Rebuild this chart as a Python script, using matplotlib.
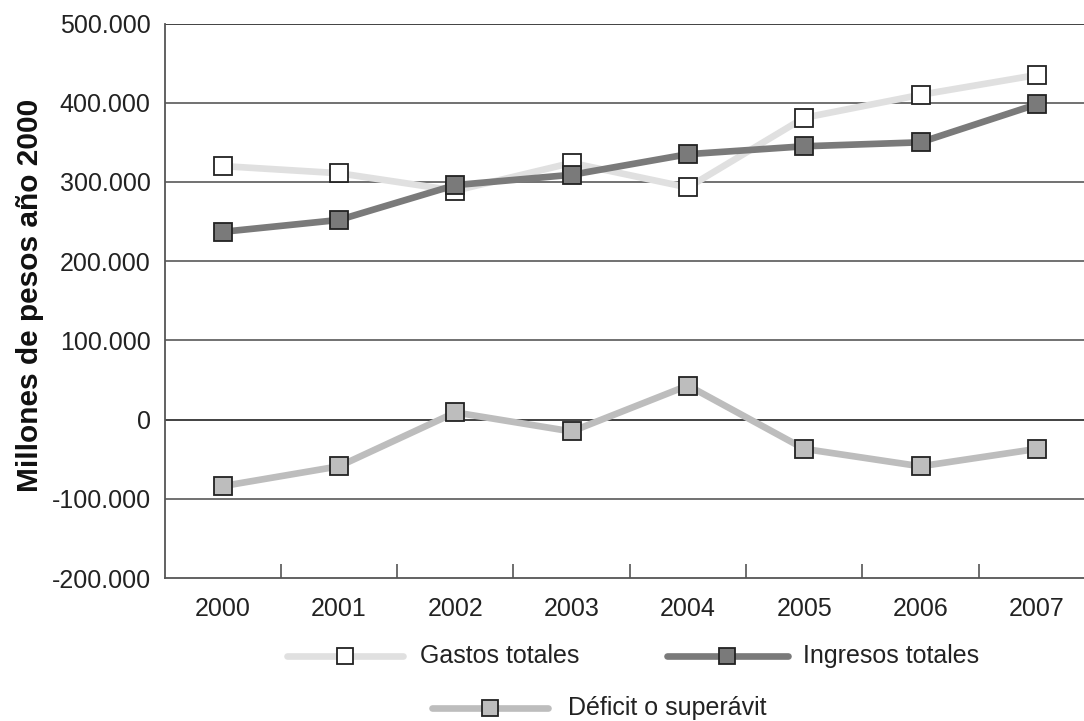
import matplotlib
matplotlib.use("Agg")
import matplotlib.pyplot as plt
from matplotlib.lines import Line2D
import numpy as np

plt.rcParams['font.family'] = ['Liberation Sans Narrow', 'Liberation Sans', 'DejaVu Sans']

years = ['2000', '2001', '2002', '2003', '2004', '2005', '2006', '2007']
gastos = [320000, 311000, 289000, 324000, 293000, 381000, 410000, 435000]
ingresos = [237000, 252000, 296000, 309000, 335000, 345000, 350000, 398000]
deficit = [-84000, -59000, 9000, -15000, 43000, -37000, -59000, -37000]
yticks = [-200000, -100000, 0, 100000, 200000, 300000, 400000, 500000]
ylabels = ['-200.000', '-100.000', '0', '100.000', '200.000', '300.000', '400.000', '500.000']
names = ['Gastos totales', 'Ingresos totales', 'Déficit o superávit']

W, H = 1084, 721
fig = plt.figure(figsize=(W/100, H/100), dpi=100)
ax = fig.add_axes([164.5/W, 1-578/H, (1095-164.5)/W, (578-23.5)/H])

x = np.arange(len(years))
styles = [
    dict(color='#e0e0e0', mfc='white'),
    dict(color='#7a7a7a', mfc='#7a7a7a'),
    dict(color='#bdbdbd', mfc='#bdbdbd'),
]
for vals, st, z in zip([gastos, ingresos, deficit], styles, [3, 4, 3]):
    ax.plot(x, vals, color=st['color'], lw=4.8, marker='s', ms=13,
            mfc=st['mfc'], mec='#222222', mew=1.3, zorder=z, solid_capstyle='round')

ax.set_xlim(-0.5, len(years)-0.5)
ax.set_ylim(-200000, 500000)
ax.set_yticks(yticks)
ax.set_yticklabels(ylabels, fontsize=18, color='#222222')
ax.set_xticks(x)
ax.set_xticklabels(years, fontsize=18, color='#222222')
ax.set_xticks(np.arange(0.5, len(years)-0.5, 1), minor=True)
ax.tick_params(axis='x', which='major', length=0, pad=14)
ax.tick_params(axis='x', which='minor', direction='in', length=10, width=1.2, color='#555555')
ax.tick_params(axis='y', length=0, pad=10)

for yv in yticks[1:]:
    c = '#333333' if yv in (0, 500000) else '#666666'
    ax.axhline(yv, color=c, lw=1.3, zorder=1)

for s in ['top', 'right']:
    ax.spines[s].set_visible(False)
for s in ['left', 'bottom']:
    ax.spines[s].set_color('#555555')
    ax.spines[s].set_linewidth(1.3)

fig.text(30/W, 1-295/H, 'Millones de pesos año 2000', fontsize=21.5, fontweight='bold',
         rotation=90, ha='center', va='center', color='#111111')

# legend drawn manually
def legend_item(x0, x1, xm, y, st, label, tx):
    yf = 1 - y/H
    fig.add_artist(Line2D([x0/W, x1/W], [yf, yf], color=st['color'], lw=4.8,
                          solid_capstyle='round', transform=fig.transFigure))
    fig.add_artist(Line2D([xm/W], [yf], marker='s', ms=12, mfc=st['mfc'], mec='#222222',
                          mew=1.3, transform=fig.transFigure))
    fig.text(tx/W, yf, label, fontsize=18, va='center', ha='left', color='#222222')

legend_item(287, 403, 345, 656, styles[0], names[0], 420)
legend_item(667, 788, 727, 656, styles[1], names[1], 803)
legend_item(432, 548, 490, 708, styles[2], names[2], 568)

fig.savefig('out.png', dpi=100)
